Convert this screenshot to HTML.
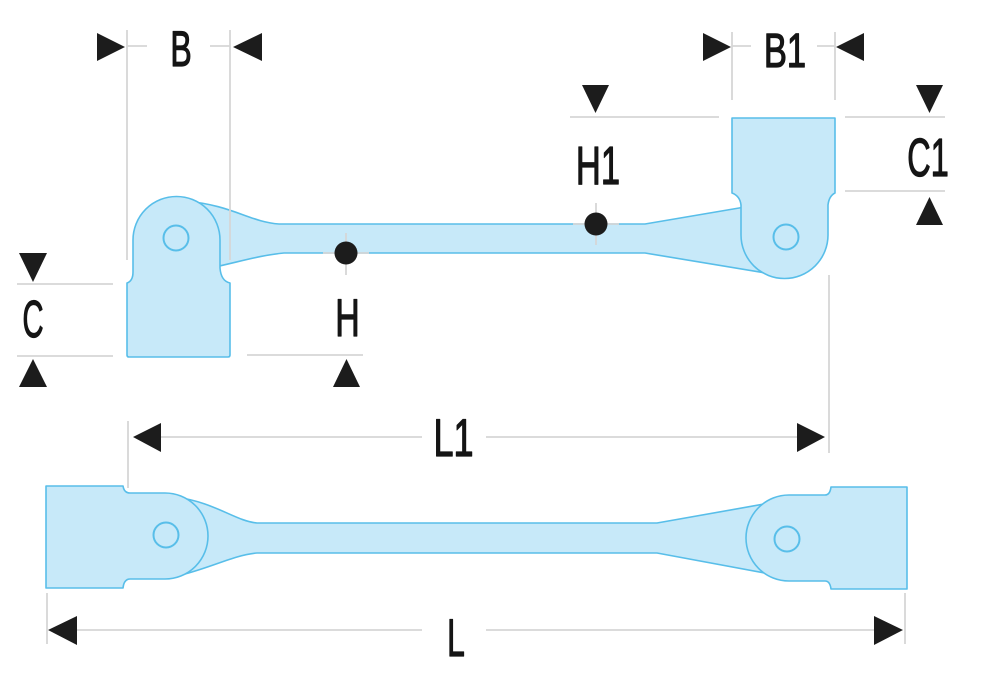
<!DOCTYPE html>
<html>
<head>
<meta charset="utf-8">
<style>
html,body{margin:0;padding:0;background:#fff;}
svg{display:block;}
text{font-family:"Liberation Sans",sans-serif;font-weight:normal;fill:#151515;stroke:#151515;stroke-width:1.3;stroke-linejoin:round;}
</style>
</head>
<body>
<svg width="1000" height="683" viewBox="0 0 1000 683" xmlns="http://www.w3.org/2000/svg">
<rect width="1000" height="683" fill="#fff"/>

<!-- ===== TOP WRENCH ===== -->
<g fill="#c7e9f9" stroke="#58bee9" stroke-width="1.6" stroke-linejoin="round">
  <!-- handle -->
  <path d="M185,201 C232,205 250,222 279,224 L645,224 L745,207 L785,235 L766,273 L645,253 L284,253 C262,255 242,261 215,267 Z"/>
  <!-- left head -->
  <path d="M129,357 Q127,357 127,355 L127,283 Q133,281 133,272 L133,240 A43.5,43.5 0 0 1 220,240 L220,268 Q221,281 230,283 L230,355 Q230,357 228,357 Z"/>
  <!-- right head -->
  <path d="M732,118 L835,118 L835,193 Q829,196 828,205 L828,235 A43.5,43.5 0 0 1 741,235 L741,205 Q740,196 732,193 Z"/>
</g>
<g fill="none" stroke="#58bee9" stroke-width="2">
  <circle cx="176" cy="238" r="12.5"/>
  <circle cx="786" cy="237" r="12.5"/>
</g>

<!-- ===== BOTTOM WRENCH ===== -->
<g fill="#c7e9f9" stroke="#58bee9" stroke-width="1.6" stroke-linejoin="round">
  <path d="M175,497 C215,502 235,521 257,523 L657,523 L770,503 L770,574 L657,553 L257,553 C235,555 215,566 185,574 Z"/>
  <path d="M46,486 L123,486 Q124,493 130,493 L165,493 A43,43 0 0 1 165,579 L130,579 Q124,579 123,588 L46,588 Z"/>
  <path d="M907,487 L907,589 L831,589 Q830,581 825,581 L789,581 A43,43 0 0 1 789,495 L825,495 Q830,495 831,487 Z"/>
</g>
<g fill="none" stroke="#58bee9" stroke-width="2">
  <circle cx="166" cy="535" r="12.5"/>
  <circle cx="787" cy="539" r="12.5"/>
</g>

<!-- ===== DIMENSION LINES ===== -->
<g stroke="#d6d6d6" stroke-width="1.8" fill="none">
  <!-- B -->
  <line x1="127" y1="30" x2="127" y2="260"/>
  <line x1="230" y1="30" x2="230" y2="260"/>
  <line x1="127" y1="46" x2="147" y2="46"/>
  <line x1="210" y1="46" x2="230" y2="46"/>
  <!-- B1 -->
  <line x1="732" y1="32" x2="732" y2="100"/>
  <line x1="835" y1="32" x2="835" y2="100"/>
  <line x1="732" y1="46" x2="751" y2="46"/>
  <line x1="817" y1="46" x2="835" y2="46"/>
  <!-- C -->
  <line x1="17" y1="284" x2="113" y2="284"/>
  <line x1="17" y1="356" x2="113" y2="356"/>
  <!-- H -->
  <line x1="247" y1="355" x2="363" y2="355"/>
  <line x1="346" y1="233" x2="346" y2="275"/>
  <line x1="323" y1="253" x2="369" y2="253"/>
  <!-- H1 -->
  <line x1="570" y1="117" x2="719" y2="117"/>
  <line x1="596" y1="203" x2="596" y2="245"/>
  <line x1="573" y1="224" x2="619" y2="224"/>
  <!-- C1 -->
  <line x1="845" y1="117" x2="945" y2="117"/>
  <line x1="845" y1="191" x2="945" y2="191"/>
  <!-- L1 -->
  <line x1="128" y1="421" x2="128" y2="488"/>
  <line x1="829" y1="275" x2="829" y2="453"/>
  <line x1="160" y1="437" x2="422" y2="437"/>
  <line x1="486" y1="437" x2="798" y2="437"/>
  <!-- L -->
  <line x1="47" y1="593" x2="47" y2="644"/>
  <line x1="905" y1="593" x2="905" y2="644"/>
  <line x1="76" y1="630" x2="422" y2="630"/>
  <line x1="486" y1="630" x2="874" y2="630"/>
</g>

<!-- dots -->
<g fill="#1c1c1c">
  <circle cx="346" cy="253" r="11.5"/>
  <circle cx="596" cy="224" r="11.5"/>
</g>

<!-- arrowheads -->
<g fill="#1c1c1c">
  <polygon points="97,33 97,61 125,47"/>
  <polygon points="262,33 262,61 233,47"/>
  <polygon points="703,33 703,61 731,47"/>
  <polygon points="864,33 864,61 836,47"/>
  <polygon points="19,253 47,253 33,282"/>
  <polygon points="19,387 47,387 33,359"/>
  <polygon points="333,387 360,387 346.5,359"/>
  <polygon points="582,85 609,85 595.5,113"/>
  <polygon points="916,85 943,85 929.5,113"/>
  <polygon points="916,225 943,225 929.5,197"/>
  <polygon points="133,437 161,423 161,452"/>
  <polygon points="825,437 797,423 797,452"/>
  <polygon points="48,630 77,616 77,645"/>
  <polygon points="903,630 874,616 874,645"/>
</g>

<!-- labels -->
<text transform="translate(181,66) scale(0.64,1)" font-size="50" text-anchor="middle">B</text>
<text transform="translate(785,67) scale(0.72,1)" font-size="48" text-anchor="middle">B1</text>
<text transform="translate(33,337) scale(0.56,1)" font-size="52" text-anchor="middle">C</text>
<text transform="translate(347.5,336) scale(0.64,1)" font-size="53" text-anchor="middle">H</text>
<text transform="translate(598,184) scale(0.64,1)" font-size="54" text-anchor="middle">H1</text>
<text transform="translate(928,176) scale(0.6,1)" font-size="54" text-anchor="middle">C1</text>
<text transform="translate(453.5,456) scale(0.68,1)" font-size="53" text-anchor="middle">L1</text>
<text transform="translate(456,656) scale(0.6,1)" font-size="53" text-anchor="middle">L</text>
</svg>
</body>
</html>
